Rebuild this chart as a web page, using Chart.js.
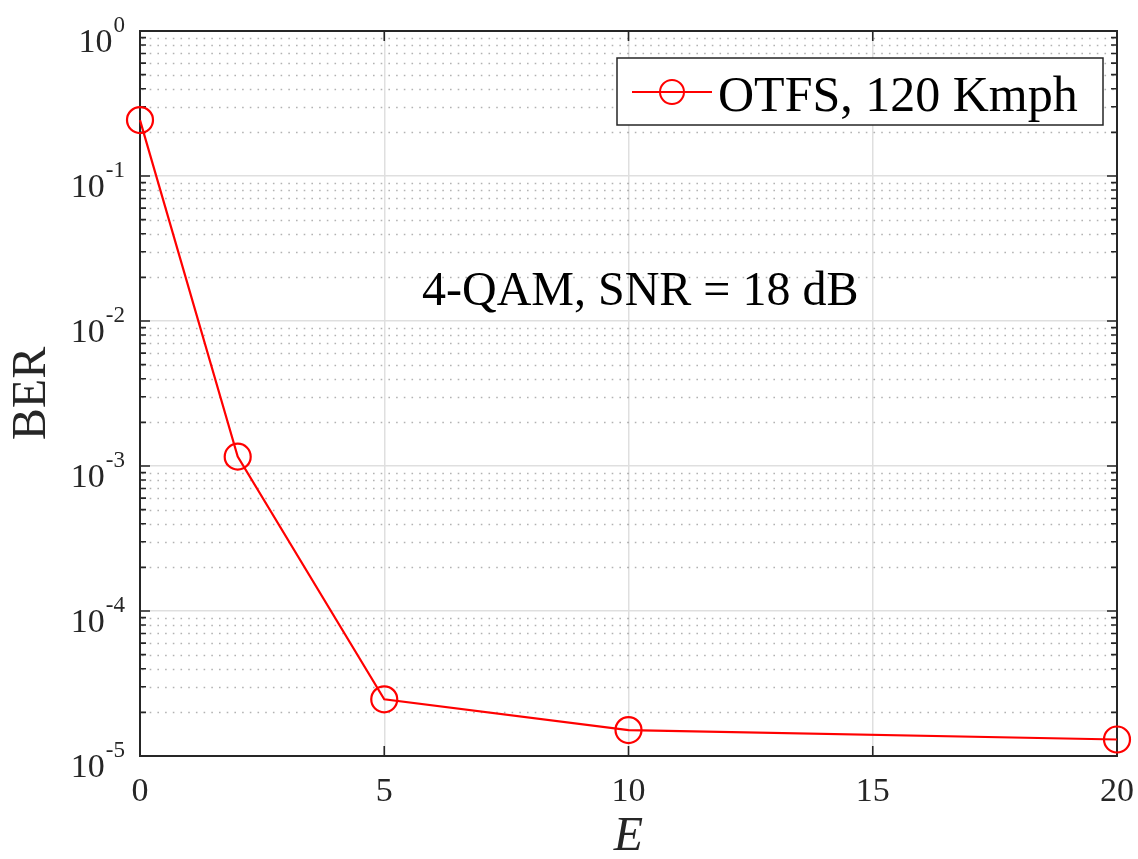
<!DOCTYPE html>
<html>
<head>
<meta charset="utf-8">
<script src="https://cdn.jsdelivr.net/npm/chart.js@4.4.1/dist/chart.umd.min.js"></script>
<style>
  html, body { margin: 0; padding: 0; background: #ffffff; }
  canvas { display: block; }
</style>
</head>
<body>
<canvas id="berChart" width="1138" height="859"></canvas>
<script>
// BER of OTFS versus E
const eValues = [0, 2, 5, 10, 20];
const berOtfs = [0.243, 1.16e-3, 2.46e-5, 1.51e-5, 1.30e-5];
const seriesLabel = 'OTFS, 120 Kmph';
const xTickValues = [0, 5, 10, 15, 20];
const yDecadeExponents = [-5, -4, -3, -2, -1, 0];
const noteText = '4-QAM, SNR = 18 dB';
const xTitleText = 'E';
const yTitleText = 'BER';

const SERIF = '"Liberation Serif", "Times New Roman", serif';
const INK = '#262626';
const MAJOR_GRID = '#dfdfdf';
const LINE_RED = '#ff0000';

// Frame, inward ticks, dotted minor grid, superscript tick labels, legend and note
const axesDecor = {
  id: 'axesDecor',
  beforeDatasetsDraw(chart) {
    const { ctx, chartArea: a, scales: { x, y } } = chart;
    ctx.save();

    // dotted minor grid for the log axis
    ctx.strokeStyle = 'rgba(0,0,0,0.30)';
    ctx.lineWidth = 1.6;
    ctx.setLineDash([1.6, 6.1]);
    yDecadeExponents.slice(0, -1).forEach(k => {
      for (let m = 2; m <= 9; m++) {
        const py = Math.round(y.getPixelForValue(m * Math.pow(10, k))) + 0.5;
        ctx.beginPath();
        ctx.moveTo(a.left + 2, py);
        ctx.lineTo(a.right - 2, py);
        ctx.stroke();
      }
    });
    ctx.setLineDash([]);

    // inward ticks
    ctx.strokeStyle = INK;
    ctx.lineWidth = 1.6;
    xTickValues.forEach(v => {
      const px = x.getPixelForValue(v);
      ctx.beginPath();
      ctx.moveTo(px, a.bottom); ctx.lineTo(px, a.bottom - 10);
      ctx.moveTo(px, a.top); ctx.lineTo(px, a.top + 10);
      ctx.stroke();
    });
    yDecadeExponents.forEach((k, i) => {
      const base = Math.pow(10, k);
      const py = y.getPixelForValue(base);
      ctx.beginPath();
      ctx.moveTo(a.left, py); ctx.lineTo(a.left + 10, py);
      ctx.moveTo(a.right, py); ctx.lineTo(a.right - 10, py);
      ctx.stroke();
      if (i < yDecadeExponents.length - 1) {
        for (let m = 2; m <= 9; m++) {
          const pm = y.getPixelForValue(m * base);
          ctx.beginPath();
          ctx.moveTo(a.left, pm); ctx.lineTo(a.left + 6, pm);
          ctx.moveTo(a.right, pm); ctx.lineTo(a.right - 6, pm);
          ctx.stroke();
        }
      }
    });

    // axes box
    ctx.lineWidth = 2;
    ctx.strokeRect(a.left, a.top, a.right - a.left, a.bottom - a.top);
    ctx.restore();
  },
  afterDraw(chart) {
    const { ctx, chartArea: a, scales: { y } } = chart;
    ctx.save();
    ctx.fillStyle = INK;

    // y tick labels as 10 with a raised exponent
    const mainFont = '34px ' + SERIF;
    const supFont = '23px ' + SERIF;
    yDecadeExponents.forEach(k => {
      const py = y.getPixelForValue(Math.pow(10, k));
      const expText = String(k);
      ctx.font = supFont;
      const supW = ctx.measureText(expText).width;
      const rightEdge = a.left - 15;
      ctx.textAlign = 'left';
      ctx.textBaseline = 'alphabetic';
      ctx.fillText(expText, rightEdge - supW, py + 1);
      ctx.font = mainFont;
      ctx.textAlign = 'right';
      ctx.fillText('10', rightEdge - supW - 1, py + 20.5);
    });

    // legend
    const ds = chart.data.datasets[0];
    const lx = a.left + 477, ly = a.top + 27, lw = 486, lh = 67;
    ctx.fillStyle = '#ffffff';
    ctx.fillRect(lx, ly, lw, lh);
    ctx.strokeStyle = INK;
    ctx.lineWidth = 1.5;
    ctx.strokeRect(lx, ly, lw, lh);
    const cy = ly + 34;
    ctx.strokeStyle = LINE_RED;
    ctx.lineWidth = 2;
    ctx.beginPath();
    ctx.moveTo(lx + 15, cy); ctx.lineTo(lx + 95, cy);
    ctx.stroke();
    ctx.beginPath();
    ctx.arc(lx + 55, cy, 12, 0, Math.PI * 2);
    ctx.stroke();
    ctx.fillStyle = '#000000';
    ctx.font = '50px ' + SERIF;
    ctx.textAlign = 'left';
    ctx.textBaseline = 'alphabetic';
    ctx.fillText(ds.label, lx + 101, ly + 53);

    // operating-point note
    ctx.font = '48px ' + SERIF;
    ctx.fillText(noteText, a.left + 282, a.top + 274);
    ctx.restore();
  }
};

new Chart(document.getElementById('berChart'), {
  type: 'line',
  data: {
    datasets: [{
      label: seriesLabel,
      data: eValues.map((e, i) => ({ x: e, y: berOtfs[i] })),
      borderColor: LINE_RED,
      borderWidth: 2.2,
      pointStyle: 'circle',
      pointRadius: 13,
      pointHoverRadius: 13,
      pointBorderWidth: 2.2,
      pointBorderColor: LINE_RED,
      pointBackgroundColor: 'rgba(0,0,0,0)',
      tension: 0,
      fill: false,
      clip: false
    }]
  },
  options: {
    responsive: false,
    devicePixelRatio: 1,
    animation: false,
    events: [],
    layout: { padding: { left: 0, top: 31, right: 21, bottom: 0 } },
    plugins: {
      legend: { display: false },
      tooltip: { enabled: false },
      title: { display: false }
    },
    scales: {
      x: {
        type: 'linear',
        min: 0,
        max: 20,
        afterBuildTicks: s => { s.ticks = xTickValues.map(v => ({ value: v })); },
        afterFit: s => { s.height = 103; s.paddingLeft = 0; s.paddingRight = 0; },
        border: { display: false },
        grid: { color: MAJOR_GRID, lineWidth: 1.5, drawTicks: false },
        ticks: {
          autoSkip: false,
          maxRotation: 0,
          padding: 16,
          color: INK,
          font: { family: SERIF, size: 34 }
        },
        title: {
          display: true,
          text: xTitleText,
          color: INK,
          font: { family: SERIF, size: 48, style: 'italic', lineHeight: 0.9 },
          padding: { top: 0, bottom: 0 }
        }
      },
      y: {
        type: 'logarithmic',
        min: 1e-5,
        max: 1,
        afterBuildTicks: s => {
          s.ticks = yDecadeExponents.map(k => ({ value: Math.pow(10, k), major: true }));
        },
        afterFit: s => { s.width = 140; },
        border: { display: false },
        grid: { color: MAJOR_GRID, lineWidth: 1.5, drawTicks: false },
        ticks: { display: false },
        title: {
          display: true,
          text: yTitleText,
          color: INK,
          font: { family: SERIF, size: 48, lineHeight: 1 },
          padding: { top: 8, bottom: 0 }
        }
      }
    }
  },
  plugins: [axesDecor]
});
</script>
</body>
</html>
